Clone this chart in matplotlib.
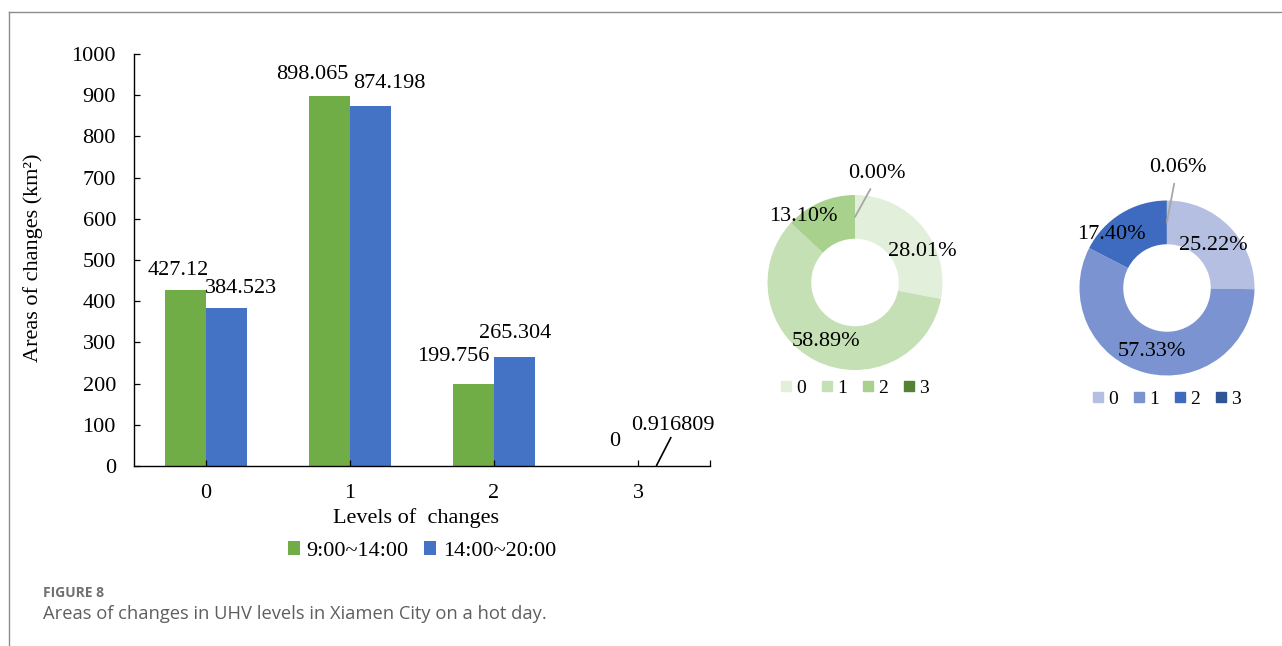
import numpy as np
import matplotlib
matplotlib.use("Agg")
import matplotlib.pyplot as plt
from matplotlib.lines import Line2D

plt.rcParams["font.family"] = ["Liberation Serif", "DejaVu Serif"]

# areas of each UHV change level (km2)
levels = ["0", "1", "2", "3"]
morning = [427.12, 898.065, 199.756, 0]          # 9:00~14:00
afternoon = [384.523, 874.198, 265.304, 0.916809]  # 14:00~20:00
series_names = ["9:00~14:00", "14:00~20:00"]
y_ticks = [0, 100, 200, 300, 400, 500, 600, 700, 800, 900, 1000]

bar_colors = ["#70ad47", "#4472c4"]
green_shades = ["#e2efda", "#c5e0b4", "#a9d18e", "#548235"]
blue_shades = ["#b4bfe1", "#7b94d1", "#3e6bbf", "#2f5597"]

W, H = 1282, 646
FS = 16
fig = plt.figure(figsize=(W / 100, H / 100), dpi=100)


def fx(px):
    return px / W


def fy(py):
    return 1 - py / H


# ---- bar chart ----
ax = fig.add_axes([fx(134), fy(466), fx(710) - fx(134), fy(54) - fy(466)])
x = np.arange(len(levels))
bw = 0.285
ax.bar(x - bw / 2, morning, bw, color=bar_colors[0], label=series_names[0])
ax.bar(x + bw / 2, afternoon, bw, color=bar_colors[1], label=series_names[1])

ax.set_xlim(-0.5, 3.5)
ax.set_ylim(0, 1000)
ax.set_yticks(y_ticks)
ax.set_xticks(x)
ax.set_xticklabels(levels)
ax.set_xticks([3.5], minor=True)
ax.tick_params(axis="both", which="both", direction="in", length=4, width=0.9,
               labelsize=FS, pad=13)
for s in ["top", "right"]:
    ax.spines[s].set_visible(False)
for s in ["left", "bottom"]:
    ax.spines[s].set_linewidth(1.0)

# value labels: (dx in category units, dy in pixels above the bar top)
morning_off = [(-0.19, 20), (-0.26, 21), (-0.285, 27), (-0.16, 24)]
afternoon_off = [(0.24, 19), (0.27, 22), (0.15, 23), (0.245, 41)]
for i, v in enumerate(morning):
    dx, dy = morning_off[i]
    ax.annotate(f"{v:g}", xy=(x[i] + dx, v), xytext=(0, dy),
                textcoords="offset pixels", ha="center", va="center", fontsize=FS)
for i, v in enumerate(afternoon):
    dx, dy = afternoon_off[i]
    if i < 3:
        ax.annotate(f"{v:g}", xy=(x[i] + dx, v), xytext=(0, dy),
                    textcoords="offset pixels", ha="center", va="center", fontsize=FS)
    else:
        # tiny bar gets a leader line
        ax.annotate(f"{v:g}", xy=(x[i] + bw * 0.45, v),
                    xytext=(x[i] + dx, v + 98), textcoords="data",
                    ha="center", va="center", fontsize=FS,
                    arrowprops=dict(arrowstyle="-", color="black", lw=1.2,
                                    relpos=(0.5, 0.1), shrinkA=0, shrinkB=0))

fig.legend(loc="center", bbox_to_anchor=(fx(422), fy(551)), ncol=2, frameon=False,
           fontsize=FS, handlelength=0.55, handleheight=0.55, handletextpad=0.3,
           columnspacing=0.7)

fig.text(fx(416), fy(518), "Levels of  changes", ha="center", va="center", fontsize=FS)
fig.text(fx(33), fy(258), "Areas of changes (km²)", ha="center", va="center",
         rotation=90, fontsize=FS)


# ---- donut charts ----
def donut(values, colors, cx, cy, label_pos, legend_y):
    r = 87.5
    dax = fig.add_axes([fx(cx - r), fy(cy + r), fx(2 * r), fy(cy - r) - fy(cy + r)])
    dax.pie(values, colors=colors, startangle=90, counterclock=False, radius=1,
            wedgeprops=dict(width=0.5, edgecolor="none"))
    dax.set_xlim(-1, 1)
    dax.set_ylim(-1, 1)
    dax.set_aspect("equal")
    dax.axis("off")
    total = sum(values)
    cum = 0
    for v, (lx, ly) in zip(values, label_pos):
        pct = v / total * 100
        mid = np.deg2rad(90 - 360 * (cum + v / 2) / total)
        cum += v
        txt = f"{pct:.2f}%"
        if pct < 1:
            dax.annotate(txt, xy=(0.75 * np.cos(mid), 0.75 * np.sin(mid)),
                         xytext=(lx, ly), ha="center", va="center", fontsize=FS,
                         annotation_clip=False,
                         arrowprops=dict(arrowstyle="-", color="#a6a6a6", lw=1.3,
                                         relpos=(0.45, 0), shrinkA=3, shrinkB=0))
        else:
            dax.text(lx, ly, txt, ha="center", va="center", fontsize=FS)
    handles = [Line2D([], [], marker="s", ls="none", color=c, markersize=7)
               for c in colors]
    fig.legend(handles, levels, loc="center", bbox_to_anchor=(fx(cx), fy(legend_y)),
               ncol=4, frameon=False, fontsize=14, handlelength=0.5,
               handletextpad=0.3, columnspacing=0.8)


donut(morning, green_shades, 855, 282.5,
      [(0.77, 0.35), (-0.33, -0.68), (-0.59, 0.75), (0.25, 1.25)], 388)
donut(afternoon, blue_shades, 1167, 288,
      [(0.53, 0.49), (-0.17, -0.73), (-0.63, 0.61), (0.13, 1.38)], 399)

# ---- page frame and caption ----
fig.add_artist(Line2D([fx(9), fx(9)], [0, fy(12)], transform=fig.transFigure,
                      color="#8c8c8c", lw=1))
fig.add_artist(Line2D([fx(9), 1], [fy(12), fy(12)], transform=fig.transFigure,
                      color="#8c8c8c", lw=1))
fig.text(fx(43), fy(593), "FIGURE 8", ha="left", va="center", fontsize=10,
         fontweight="bold", color="#707070", family="Open Sans")
fig.text(fx(43), fy(614), "Areas of changes in UHV levels in Xiamen City on a hot day.",
         ha="left", va="center", fontsize=13.2, color="#5f5f5f", family="Open Sans")

fig.savefig("out.png", dpi=100)
